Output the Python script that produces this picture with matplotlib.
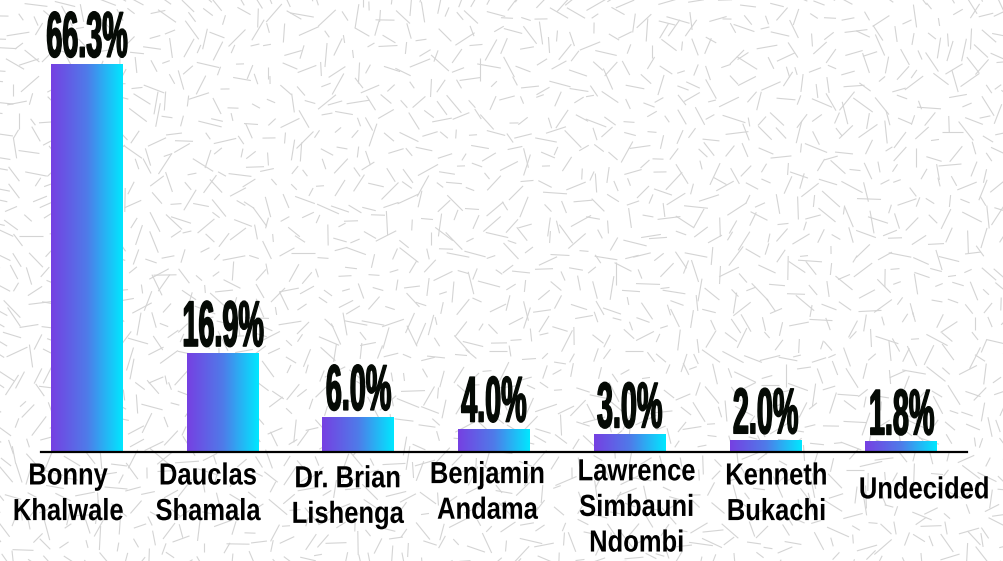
import numpy as np
import matplotlib.pyplot as plt
from matplotlib.colors import LinearSegmentedColormap
from matplotlib.collections import LineCollection
from matplotlib.patheffects import AbstractPathEffect
from matplotlib.transforms import Affine2D

# data
candidates = ["Bonny\nKhalwale", "Dauclas\nShamala", "Dr. Brian\nLishenga",
              "Benjamin\nAndama", "Lawrence\nSimbauni\nNdombi", "Kenneth\nBukachi",
              "Undecided"]
shares = [66.3, 16.9, 6.0, 4.0, 3.0, 2.0, 1.8]
share_labels = ["66.3%", "16.9%", "6.0%", "4.0%", "3.0%", "2.0%", "1.8%"]

# label positions (slightly off the bar centres, as in the original)
label_x = [-0.14, 0.89, 1.92, 2.95, 4.05, 5.08, 6.17]
label_dy = [-9, -9, -11, -8, -6, -9, -19]


class Squeeze(AbstractPathEffect):
    """Draw text narrower/taller (condensed look), optionally thickened."""

    def __init__(self, sx=1.0, sy=1.0, lw=0.0):
        super().__init__()
        self.sx, self.sy, self.lw = sx, sy, lw

    def draw_path(self, renderer, gc, tpath, affine, rgbFace=None):
        ext = tpath.get_extents()
        cx = (ext.x0 + ext.x1) / 2
        t = Affine2D().translate(-cx, 0).scale(self.sx, self.sy).translate(cx, 0) + affine
        gc0 = renderer.new_gc()
        gc0.copy_properties(gc)
        if self.lw and rgbFace is not None:
            gc0.set_linewidth(self.lw)
            gc0.set_foreground(rgbFace)
            gc0.set_joinstyle("round")
        else:
            gc0.set_linewidth(0)
        renderer.draw_path(gc0, tpath, t, rgbFace)
        gc0.restore()


grad = LinearSegmentedColormap.from_list("pc", ["#7640e2", "#4f7be9", "#00e8ff"])

fig = plt.figure(figsize=(10.04, 5.61), dpi=100)
fig.patch.set_facecolor("white")

# faint background texture of short strokes
bg = fig.add_axes([0, 0, 1, 1], zorder=-5)
bg.set_xlim(0, 1004)
bg.set_ylim(561, 0)
bg.axis("off")
segs = []
for gy in range(0, 580, 17):
    for gx in range(0, 1020, 17):
        h = (gx * 73856093 ^ gy * 19349663) % 997
        ang = np.deg2rad((h * 37) % 180)
        ln = 8 + (h % 17)
        cx = gx + (h % 13) - 6
        cy = gy + ((h // 13) % 13) - 6
        dx, dy = np.cos(ang) * ln / 2, np.sin(ang) * ln / 2
        segs.append([(cx - dx, cy - dy), (cx + dx, cy + dy)])
bg.add_collection(LineCollection(segs, colors="#d4d4d4", linewidths=0.8))

ax = fig.add_axes([41 / 1004, 109 / 561, 926 / 1004, 452 / 561])
ax.patch.set_alpha(0)

x = np.arange(len(shares))
width = 0.53
bars = ax.bar(x, shares, width, color="none", edgecolor="none")

gradient = np.linspace(0, 1, 256).reshape(1, -1)
for b in bars:
    x0, y0 = b.get_x(), b.get_y()
    im = ax.imshow(gradient, cmap=grad, aspect="auto",
                   extent=[x0, x0 + b.get_width(), y0, y0 + b.get_height()],
                   zorder=2)
    im.set_clip_path(b)

for xi, v, lab in zip(x, shares, share_labels):
    ax.annotate(lab, (xi, v), xytext=(0, 5), textcoords="offset points",
                ha="center", va="baseline", fontsize=44, fontweight="bold",
                family=["Liberation Sans", "DejaVu Sans"], color="#050a05",
                path_effects=[Squeeze(0.47, 1.06, 1.0)])

for lx, dy, name in zip(label_x, label_dy, candidates):
    ax.annotate(name, (lx, 0), xycoords=("data", "axes fraction"),
                xytext=(0, dy), textcoords="offset points",
                ha="center", va="top", fontsize=20, fontweight="bold",
                family=["Liberation Sans", "DejaVu Sans"], linespacing=1.48,
                color="black", path_effects=[Squeeze(0.92, 1.1)])

ax.set_xlim(-0.339, 6.485)
ax.set_ylim(0, 77.2)
for s in ["top", "right", "left"]:
    ax.spines[s].set_visible(False)
ax.spines["bottom"].set_linewidth(1.6)
ax.set_xticks([])
ax.set_yticks([])

fig.savefig("out.png", dpi=100)
